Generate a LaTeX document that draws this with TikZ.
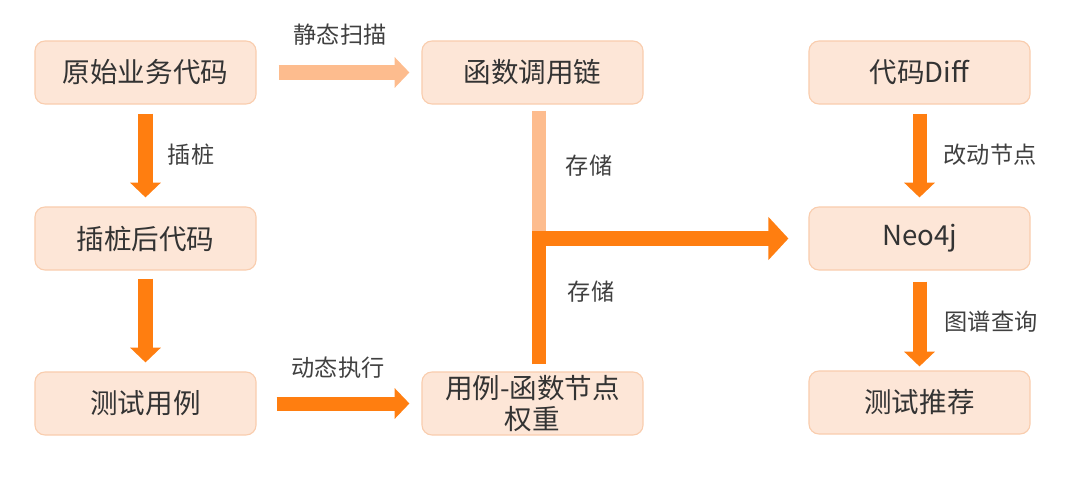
\documentclass[tikz,border=0pt]{standalone}
\usepackage{fontspec}
\setmainfont{Noto Sans CJK SC}
\usetikzlibrary{arrows.meta,calc}
\definecolor{boxfill}{HTML}{FDE6D7}
\definecolor{boxline}{HTML}{F9CDAE}
\definecolor{flowdark}{HTML}{FF7E10}
\definecolor{flowlight}{HTML}{FDBC8E}
\definecolor{textgray}{HTML}{333333}
\definecolor{labelgray}{HTML}{404040}

\begin{document}
\begin{tikzpicture}[x=0.025cm,y=-0.025cm,
  stage/.style={draw=boxline,fill=boxfill,line width=0.8pt,rounded corners=0.25cm,
    minimum width=5.525cm,minimum height=1.575cm,inner sep=0pt,align=center,
    text=textgray,font=\fontsize{19.6}{21.5}\selectfont},
  flow/.style={draw=flowdark,line width=0.35cm,-{Triangle[width=0.75cm,length=0.37cm]}},
  softflow/.style={flow,draw=flowlight},
  softbar/.style={draw=flowlight,line width=0.35cm},
  bigflow/.style={draw=flowdark,line width=0.35cm,-{Triangle[width=1.05cm,length=0.5cm]}},
  lbl/.style={text=labelgray,inner sep=0pt,font=\fontsize{16.5}{19}\selectfont}]
\useasboundingbox (0,0) rectangle (1080,486);
\node[stage] (src) at (145.5,72.5) {原始业务代码};
\node[stage] (inst) at (145.5,238.5) {插桩后代码};
\node[stage] (cases) at (145.5,403.5) {测试用例};
\node[stage] (chain) at (532.5,72.5) {函数调用链};
\node[stage] (weight) at (532.5,403.5) {用例-函数节点\\权重};
\node[stage] (diff) at (919.5,72.5) {代码Diff};
\node[stage] (neo) at (919.5,238.5) {Neo4j};
\node[stage] (rec) at (919.5,402.5) {测试推荐};

\draw[softflow] ($(src.east)+(22,0)$) -- ($(chain.west)+(-12,0)$);
\draw[flow] ($(cases.east)+(20,0)$) -- ($(weight.west)+(-12,0)$);
\draw[flow] ($(src.south)+(0,9)$) -- ($(inst.north)+(0,-9)$);
\draw[flow] ($(inst.south)+(0,8)$) -- ($(cases.north)+(0,-9)$);
\draw[flow] ($(diff.south)+(0,9)$) -- ($(neo.north)+(0,-9)$);
\draw[flow] ($(neo.south)+(0,11)$) -- ($(rec.north)+(0,-4)$);

\coordinate (hub) at (538.5,238.5);
\draw[softbar] ($(chain.south)+(6,6)$) -- (hub);
\draw[bigflow] ($(weight.north)+(6,-7)$) |- ($(neo.west)+(-20,0)$);

\node[lbl] (scan) at (340,35) {静态扫描};
\node[lbl] (pin) at (191,155) {插桩};
\node[lbl] (run) at (338,368) {动态执行};
\node[lbl] (store1) at (589,166) {存储};
\node[lbl] (store2) at (591,292) {存储};
\node[lbl] (change) at (990,155) {改动节点};
\node[lbl] (query) at (991,322) {图谱查询};
\end{tikzpicture}
\end{document}
